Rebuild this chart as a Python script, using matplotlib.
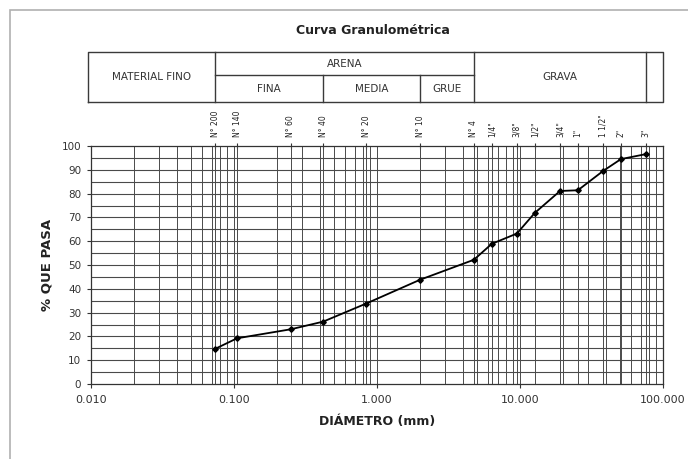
import numpy as np
import matplotlib as mpl
from matplotlib import pyplot as plt
from matplotlib import transforms
from matplotlib.patches import Rectangle

mpl.rcParams["font.family"] = ["DejaVu Sans"]
mpl.rcParams["text.color"] = "333333"

# Sieve openings (mm) and passing percentage
sieve_names = ['N° 200', 'N° 140', 'N° 60', 'N° 40', 'N° 20', 'N° 10', 'N° 4',
               '1/4"', '3/8"', '1/2"', '3/4"', '1"', '1 1/2"', '2"', '3"']
diam = [0.074, 0.105, 0.25, 0.42, 0.84, 2.0, 4.76,
        6.35, 9.5, 12.7, 19.05, 25.4, 38.1, 50.8, 76.2]
pasa = [14.8, 19.2, 23.0, 26.2, 33.8, 43.8, 52.2,
        58.9, 63.2, 71.9, 81.1, 81.4, 89.5, 94.5, 96.6]

xtick_vals = [0.01, 0.1, 1, 10, 100]
xtick_labels = ["0.010", "0.100", "1.000", "10.000", "100.000"]

W, H = 688, 459
fig = plt.figure(figsize=(W / 100, H / 100), dpi=100)
fig.patch.set_facecolor("white")

# outer frame
fig.patches.append(Rectangle((10 / W, -0.1), 1.2, (H - 10) / H + 0.1,
                             transform=fig.transFigure, fill=False,
                             edgecolor="#b0b0b0", linewidth=1.2))

ax = fig.add_axes([91 / W, (H - 384) / H, 572 / W, 238 / H])
ax.set_xscale("log")
ax.set_xlim(0.01, 100)
ax.set_ylim(0, 100)

# grid: log minor lines, sieve lines and every 5 %
gcol = "#4a4a4a"
for dec in [0.01, 0.1, 1, 10]:
    for k in range(1, 10):
        ax.axvline(dec * k, color=gcol, lw=0.7, zorder=1)
for d in diam:
    ax.axvline(d, color=gcol, lw=0.7, zorder=1)
for yv in range(5, 100, 5):
    ax.axhline(yv, color=gcol, lw=0.8, zorder=1)

ax.plot(diam, pasa, color="black", lw=1.3, marker="D", markersize=2.8,
        zorder=3)

ax.set_yticks(range(0, 101, 10))
ax.set_xticks(xtick_vals)
ax.set_xticklabels(xtick_labels)
ax.xaxis.set_minor_locator(mpl.ticker.NullLocator())
ax.tick_params(axis="both", length=3, color="#333333", labelcolor="#333333")
ax.tick_params(axis="y", labelsize=7.5, pad=4)
ax.tick_params(axis="x", labelsize=8, pad=5)
for s in ax.spines.values():
    s.set_color("#333333")
    s.set_linewidth(0.9)

ax.set_ylabel("% QUE PASA", fontsize=9.5, fontweight="bold", labelpad=6,
              color="#222222")
ax.set_xlabel("DIÁMETRO (mm)", fontsize=9, fontweight="bold", labelpad=7,
              color="#222222")

# sieve names along the top
top = ax.secondary_xaxis("top")
top.set_xticks(diam)
top.set_xticklabels(sieve_names, rotation=90, fontsize=5.5)
top.xaxis.set_minor_locator(mpl.ticker.NullLocator())
top.tick_params(direction="inout", length=5, width=0.8, pad=4,
                color="#333333", labelcolor="#222222")
top.spines["top"].set_visible(False)

# classification table above the plot
trans = transforms.blended_transform_factory(ax.transData, ax.transAxes)
y_top, y_mid, y_bot = 1.395, 1.298, 1.185
x_left, x_right = 0.0095, 100
lkw = dict(color="#3a3a3a", lw=1.0, transform=trans, clip_on=False)
ax.plot([x_left, x_right, x_right, x_left, x_left],
        [y_bot, y_bot, y_top, y_top, y_bot], **lkw)
ax.plot([0.074, 4.76], [y_mid, y_mid], **lkw)
for xv in [0.074, 4.76, 76.2]:
    ax.plot([xv, xv], [y_bot, y_top], **lkw)
for xv in [0.42, 2.0]:
    ax.plot([xv, xv], [y_bot, y_mid], **lkw)

tkw = dict(transform=trans, ha="center", va="center", fontsize=7.5,
           color="#333333")
ym = (y_top + y_bot) / 2
ax.text(np.sqrt(x_left * 0.074), ym, "MATERIAL FINO", **tkw)
ax.text(np.sqrt(0.074 * 4.76), (y_top + y_mid) / 2, "ARENA", **tkw)
ax.text(np.sqrt(0.074 * 0.42), (y_mid + y_bot) / 2, "FINA", **tkw)
ax.text(np.sqrt(0.42 * 2.0), (y_mid + y_bot) / 2, "MEDIA", **tkw)
ax.text(np.sqrt(2.0 * 4.76), (y_mid + y_bot) / 2, "GRUE", **tkw)
ax.text(np.sqrt(4.76 * 76.2), ym, "GRAVA", **tkw)

fig.text(373 / W, 1 - 31 / H, "Curva Granulométrica", ha="center",
         va="center", fontsize=9, fontweight="bold", color="#222222")

fig.savefig("out.png", dpi=100)
plt.close(fig)
